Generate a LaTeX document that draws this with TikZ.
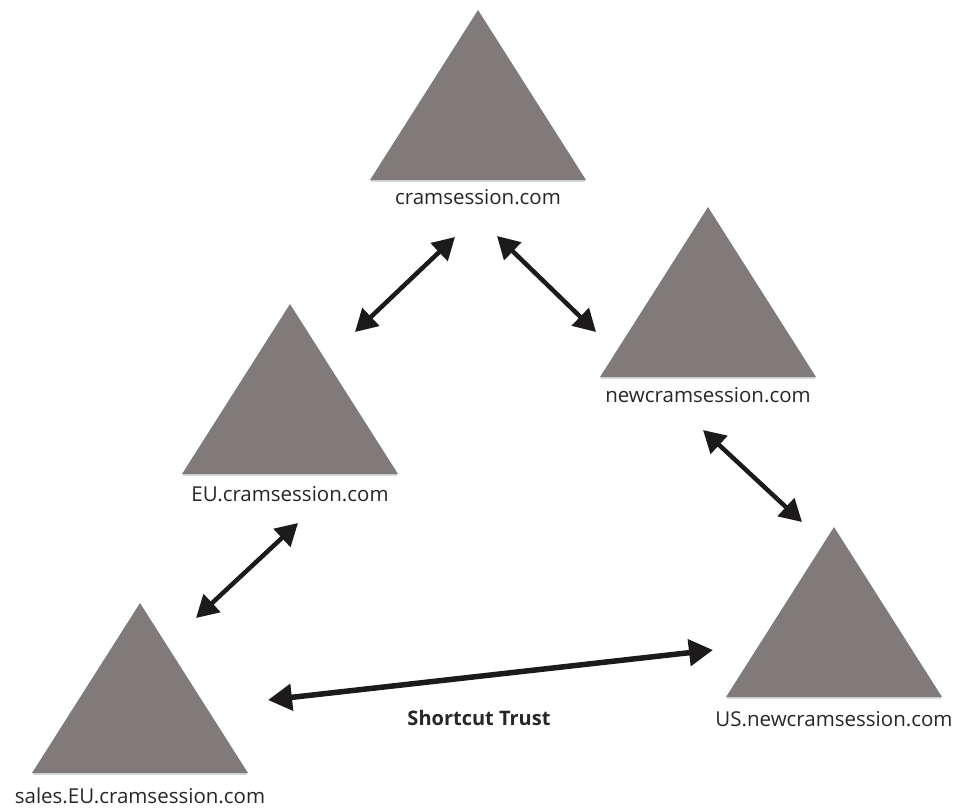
\documentclass[tikz,border=0pt]{standalone}
\usepackage{fontspec}
\setmainfont{Open Sans}
\usetikzlibrary{arrows.meta}
\definecolor{domgray}{RGB}{128,122,122}
\definecolor{ink}{RGB}{28,26,26}
\definecolor{labelgray}{RGB}{40,38,38}
\begin{document}
\begin{tikzpicture}[x=1pt,y=-1pt,
  treefill/.style={fill=domgray},
  baseshade/.style={draw=black!15, line width=2pt},
  dlabel/.style={text=labelgray, font=\fontsize{20.5}{24}\selectfont, inner sep=0pt, anchor=center},
  blabel/.style={text=labelgray, font=\fontsize{20}{24}\selectfont\bfseries, inner sep=0pt, anchor=center},
  trust/.style={draw=ink, line width=4.5pt,
    {Triangle[length=22pt,width=24pt]}-{Triangle[length=22pt,width=24pt]}},
  shortcut/.style={draw=ink, line width=5.5pt,
    {Triangle[length=24pt,width=26pt]}-{Triangle[length=24pt,width=26pt]}}]
\useasboundingbox (0,0) rectangle (957,807);

% domain trees: apex x, apex y; triangles 216 wide, 170 high
\newcommand\domaintree[3]{%
  \draw[baseshade] (#1-107,#2+170.5) -- (#1+107,#2+170.5);
  \fill[treefill] (#1,#2) -- (#1+108,#2+170) -- (#1-108,#2+170) -- cycle;
  \coordinate (#3) at (#1,#2+110);
}
\domaintree{478}{10}{root}
\domaintree{708}{207}{newroot}
\domaintree{290}{304}{eu}
\domaintree{140}{603}{sales}
\domaintree{834}{527}{us}

% domain names
\node[dlabel] (rootname)    at (478,197) {cramsession.com};
\node[dlabel] (newrootname) at (708,395) {newcramsession.com};
\node[dlabel] (euname)      at (290,494) {EU.cramsession.com};
\node[dlabel] (salesname)   at (140,796) {sales.EU.cramsession.com};
\node[dlabel] (usname)      at (834,719) {US.newcramsession.com};

% trust arrow ends
\coordinate (t1a) at (455,237); \coordinate (t1b) at (355,332);
\coordinate (t2a) at (497,236); \coordinate (t2b) at (596,332);
\coordinate (t3a) at (703,430); \coordinate (t3b) at (802,522);
\coordinate (t4a) at (298,523); \coordinate (t4b) at (196,618);
\coordinate (t5a) at (268,700); \coordinate (t5b) at (713,650);

\draw[trust] (t1a) -- (t1b);
\draw[trust] (t2a) -- (t2b);
\draw[trust] (t3a) -- (t3b);
\draw[trust] (t4a) -- (t4b);
\draw[shortcut] (t5a) -- (t5b);

\node[blabel] (shortcutname) at (479,718) {Shortcut Trust};
\end{tikzpicture}
\end{document}
